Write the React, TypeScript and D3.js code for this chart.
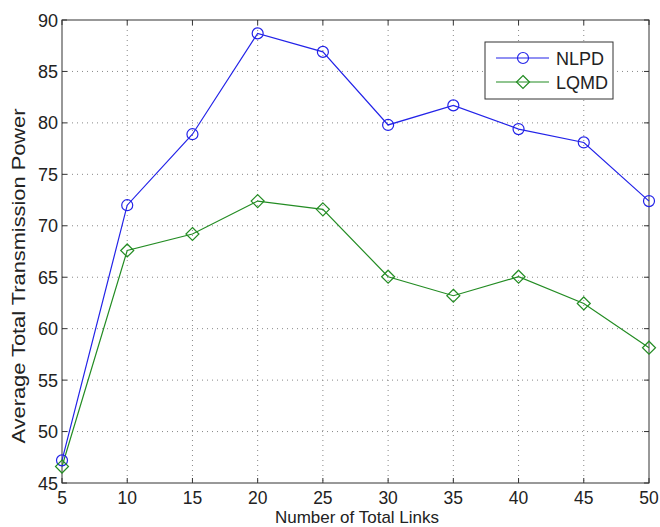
import React from "react";
import * as d3 from "d3";

const xValues = [5, 10, 15, 20, 25, 30, 35, 40, 45, 50];
const nlpd = [47.2, 72.0, 78.9, 88.7, 86.9, 79.8, 81.7, 79.4, 78.1, 72.4];
const lqmd = [46.6, 67.6, 69.2, 72.4, 71.6, 65.05, 63.2, 65.05, 62.45, 58.15];
const xTicks = [5, 10, 15, 20, 25, 30, 35, 40, 45, 50];
const yTicks = [45, 50, 55, 60, 65, 70, 75, 80, 85, 90];
const seriesNames = ["NLPD", "LQMD"];
const seriesColors = ["#2323e8", "#238c23"];

export default function App() {
  const W = 660, H = 527;
  const left = 62, right = 649, top = 20, bottom = 483;
  const x = d3.scaleLinear().domain([5, 50]).range([left, right]);
  const y = d3.scaleLinear().domain([45, 90]).range([bottom, top]);
  const line = d3.line<number>().x((_, i) => x(xValues[i])).y((d) => y(d));
  const font = "'Liberation Sans', Arial, Helvetica, sans-serif";
  const tick = 5;
  const diamond = (cx: number, cy: number, r: number) =>
    `M${cx},${cy - r}L${cx + r},${cy}L${cx},${cy + r}L${cx - r},${cy}Z`;

  const lx = 485, ly = 42, lw = 128, lh = 57;

  return (
    <svg width={W} height={H} style={{ position: "absolute", left: 0, top: 0, background: "#fff" }}>
      <rect x={0} y={0} width={W} height={H} fill="#fff" />
      {/* grid */}
      <g stroke="#888" strokeWidth={1} strokeDasharray="1,4">
        {xTicks.slice(1, -1).map((t) => (
          <line key={"gx" + t} x1={x(t)} x2={x(t)} y1={top} y2={bottom} />
        ))}
        {yTicks.slice(1, -1).map((t) => (
          <line key={"gy" + t} x1={left} x2={right} y1={y(t)} y2={y(t)} />
        ))}
      </g>
      {/* ticks */}
      <g stroke="#333" strokeWidth={1}>
        {xTicks.map((t) => (
          <g key={"tx" + t}>
            <line x1={x(t)} x2={x(t)} y1={bottom} y2={bottom - tick} />
            <line x1={x(t)} x2={x(t)} y1={top} y2={top + tick} />
          </g>
        ))}
        {yTicks.map((t) => (
          <g key={"ty" + t}>
            <line x1={left} x2={left + tick} y1={y(t)} y2={y(t)} />
            <line x1={right} x2={right - tick} y1={y(t)} y2={y(t)} />
          </g>
        ))}
      </g>
      <rect x={left} y={top} width={right - left} height={bottom - top} fill="none" stroke="#333" strokeWidth={1} />
      {/* tick labels */}
      <g fontFamily={font} fill="#222">
        {xTicks.map((t) => (
          <text key={"lx" + t} x={x(t)} y={504} textAnchor="middle" fontSize={17.5}>{t}</text>
        ))}
        {yTicks.map((t) => (
          <text key={"ly" + t} x={58} y={y(t) + 6.5} textAnchor="end" fontSize={18}>{t}</text>
        ))}
        <text x={357} y={523} textAnchor="middle" fontSize={17}>Number of Total Links</text>
        <text
          transform={`translate(25,276) rotate(-90)`}
          textAnchor="middle"
          fontSize={18}
          textLength={335}
          lengthAdjust="spacingAndGlyphs"
        >
          Average Total Transmission Power
        </text>
      </g>
      {/* series */}
      <path d={line(nlpd) || ""} fill="none" stroke={seriesColors[0]} strokeWidth={1.2} />
      <path d={line(lqmd) || ""} fill="none" stroke={seriesColors[1]} strokeWidth={1.2} />
      {nlpd.map((v, i) => (
        <circle key={"c" + i} cx={x(xValues[i])} cy={y(v)} r={5.5} fill="none" stroke={seriesColors[0]} strokeWidth={1.2} />
      ))}
      {lqmd.map((v, i) => (
        <path key={"d" + i} d={diamond(x(xValues[i]), y(v), 6.5)} fill="none" stroke={seriesColors[1]} strokeWidth={1.2} />
      ))}
      {/* legend */}
      <rect x={lx} y={ly} width={lw} height={lh} fill="#fff" stroke="#333" strokeWidth={1} />
      {seriesNames.map((n, i) => {
        const cy = ly + 16 + i * 24;
        return (
          <g key={n}>
            <line x1={lx + 11} x2={lx + 64} y1={cy} y2={cy} stroke={seriesColors[i]} strokeWidth={1.2} />
            {i === 0 ? (
              <circle cx={lx + 38} cy={cy} r={5.5} fill="none" stroke={seriesColors[i]} strokeWidth={1.2} />
            ) : (
              <path d={diamond(lx + 38, cy, 6.5)} fill="none" stroke={seriesColors[i]} strokeWidth={1.2} />
            )}
            <text x={lx + 71} y={cy + 6.5} fontFamily={font} fontSize={18} fill="#222">{n}</text>
          </g>
        );
      })}
    </svg>
  );
}
